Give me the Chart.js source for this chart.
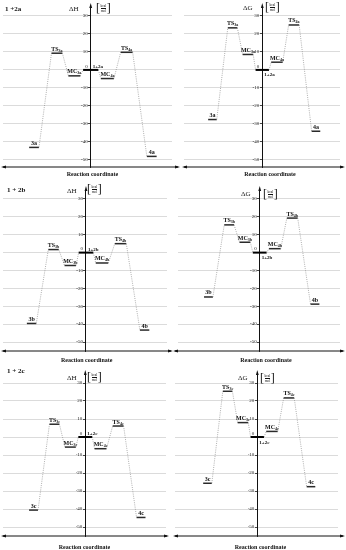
<!DOCTYPE html>
<html>
<head>
<meta charset="utf-8">
<script src="https://cdn.jsdelivr.net/npm/chart.js"></script>
<style>
  body { margin: 0; width: 346px; height: 550px; position: relative; background: #fff; overflow: hidden;
         font-family: "Liberation Serif", "DejaVu Serif", serif; color: #111; }
  canvas, .txt { position: absolute; }
  .txt { white-space: nowrap; line-height: 1; }
  .sys { font-size: 7px; font-weight: bold; }
  .qty { font-size: 7px; }
  .rc { font-size: 6px; font-weight: bold; transform: translateX(-50%); }
  .unit { display: flex; align-items: center; height: 12px; }
  .unit .br { font-size: 12px; line-height: 12px; }
  .unit .frac { display: flex; flex-direction: column; font-size: 3.5px; line-height: 4px; text-align: center; padding: 0 0.5px; }
  .unit .frac span:first-child { border-bottom: 0.5px solid #111; }
</style>
</head>
<body>
<script>
// species along the reaction coordinate (suffix letter added per system)
const species = ["3", "TS3", "MC3", "1+2", "MC4", "TS4", "4"];
const reactionCoord = [-52, -31, -15, 0, 15.3, 33, 56];
const energyTicks = [-50, -40, -30, -20, -10, 0, 10, 20, 30];

// kcal/mol
const enthalpyA = [-43.1, 9.3, -3.3, 0, -4.8, 9.8, -48.1];
const freeEnergyA = [-27.6, 23.4, 8.6, 0, 4.3, 25.0, -34.1];
const enthalpyB = [-39.6, 1.7, -7.2, 0, -5.8, 5.0, -43.3];
const freeEnergyB = [-24.8, 15.5, 5.8, 0, 2.2, 19.3, -28.8];
const enthalpyC = [-40.6, 7.1, -5.6, 0, -6.5, 6.1, -44.7];
const freeEnergyC = [-25.7, 25.4, 8.0, 0, 3.1, 21.7, -27.6];

const levelHalfWidth = [4.5, 5, 5.5, 7, 6, 5.5, 4.5];
const FONT = "'Liberation Serif', 'DejaVu Serif', serif";

// box = [left, top, width, height], pad = [left, top, right, bottom]
const panels = [
  { letter: "a", kind: "ΔH", energies: enthalpyA, system: "1 +2a",
    box: [0, 0, 181, 180], pad: [3, 7, 9, 13], xRange: [-80.5, 74.6], yMin: -54,
    sysAt: [5, 6], kindAt: [69, 6], unitAt: [96, 2], rcAt: [92.5, 171] },
  { letter: "a", kind: "ΔG", energies: freeEnergyA,
    box: [181, 0, 165, 180], pad: [3, 7, 6, 13], xRange: [-81.7, 81.1], yMin: -54,
    kindAt: [243, 5], unitAt: [265, 1], rcAt: [270, 171] },
  { letter: "b", kind: "ΔH", energies: enthalpyB, system: "1 + 2b",
    box: [0, 180, 174, 185], pad: [3, 10, 7, 14], xRange: [-79.3, 77.4], yMin: -55,
    sysAt: [7, 187], kindAt: [67, 188], unitAt: [87, 183], rcAt: [86.7, 357] },
  { letter: "b", kind: "ΔG", energies: freeEnergyB,
    box: [172, 180, 174, 185], pad: [6, 10, 6, 14], xRange: [-82.9, 81.4], yMin: -55,
    kindAt: [241, 191], unitAt: [263, 188], rcAt: [266, 357] },
  { letter: "c", kind: "ΔH", energies: enthalpyC, system: "1 + 2c",
    box: [0, 365, 170, 185], pad: [3, 9, 4, 14], xRange: [-82.7, 81.1], yMin: -55,
    sysAt: [7, 368], kindAt: [67, 375], unitAt: [87, 371], rcAt: [84.5, 544] },
  { letter: "c", kind: "ΔG", energies: freeEnergyC,
    box: [172, 365, 174, 185], pad: [3, 9, 8, 14], xRange: [-85.9, 84.2], yMin: -55,
    kindAt: [238, 375], unitAt: [260, 372], rcAt: [260.5, 544] }
];

function addText(cls, html, left, top) {
  const el = document.createElement("div");
  el.className = "txt " + cls;
  el.innerHTML = html;
  el.style.left = left + "px";
  el.style.top = top + "px";
  document.body.appendChild(el);
}

function levelPoints(energies) {
  const pts = [];
  energies.forEach((e, i) => {
    pts.push({ x: reactionCoord[i] - levelHalfWidth[i], y: e });
    pts.push({ x: reactionCoord[i] + levelHalfWidth[i], y: e });
  });
  return pts;
}

function drawSpeciesLabel(ctx, name, letter, cx, baseline) {
  const m = /^(TS|MC)(\d)$/.exec(name);
  const main = m ? m[1] : name + letter;
  const sub = m ? m[2] + letter : "";
  ctx.font = "bold 6px " + FONT;
  const w1 = ctx.measureText(main).width;
  ctx.font = "bold 4px " + FONT;
  const w2 = sub ? ctx.measureText(sub).width : 0;
  const left = cx - (w1 + w2) / 2;
  ctx.font = "bold 6px " + FONT;
  ctx.fillText(main, left, baseline);
  if (sub) {
    ctx.font = "bold 4px " + FONT;
    ctx.fillText(sub, left + w1, baseline + 1);
  }
}

function decorations(panel) {
  return {
    id: "decorations",
    afterDatasetsDraw(chart) {
      const { ctx, chartArea, scales: { x, y } } = chart;
      const axisX = x.getPixelForValue(0);
      const yb = chartArea.bottom;
      ctx.save();
      ctx.fillStyle = "#111";
      ctx.strokeStyle = "#111";
      ctx.lineWidth = 1;

      // reaction coordinate, double arrow
      ctx.beginPath();
      ctx.moveTo(3, yb);
      ctx.lineTo(chart.width - 3, yb);
      ctx.stroke();
      ctx.beginPath();
      ctx.moveTo(1, yb); ctx.lineTo(6, yb - 1.6); ctx.lineTo(6, yb + 1.6); ctx.closePath();
      ctx.moveTo(chart.width - 1, yb); ctx.lineTo(chart.width - 6, yb - 1.6); ctx.lineTo(chart.width - 6, yb + 1.6); ctx.closePath();
      ctx.fill();

      // energy axis arrow head
      ctx.beginPath();
      ctx.moveTo(axisX, chartArea.top - 4);
      ctx.lineTo(axisX - 1.4, chartArea.top + 1);
      ctx.lineTo(axisX + 1.4, chartArea.top + 1);
      ctx.closePath();
      ctx.fill();

      // energy tick labels beside the centred axis
      ctx.font = "5px " + FONT;
      ctx.fillStyle = "#222";
      ctx.textAlign = "right";
      y.ticks.forEach(t => {
        const py = y.getPixelForValue(t.value);
        if (t.value === 0) {
          ctx.textBaseline = "bottom";
          ctx.fillText(String(t.value), axisX - 3, py - 1);
        } else {
          ctx.textBaseline = "middle";
          ctx.fillText(String(t.value), axisX - 3, py);
        }
      });

      ctx.fillStyle = "#111";
      ctx.textAlign = "left";
      ctx.textBaseline = "alphabetic";
      species.forEach((name, i) => {
        const cy = y.getPixelForValue(panel.energies[i]);
        if (name === "1+2") {
          ctx.font = "bold 5px " + FONT;
          const by = panel.kind === "ΔH" ? cy - 2 : cy + 6.5;
          ctx.fillText(name + panel.letter, axisX + 2, by);
        } else {
          drawSpeciesLabel(ctx, name, panel.letter, x.getPixelForValue(reactionCoord[i]), cy - 2.5);
        }
      });
      ctx.restore();
    }
  };
}

panels.forEach(panel => {
  const [left, top, width, height] = panel.box;
  const canvas = document.createElement("canvas");
  canvas.width = width;
  canvas.height = height;
  canvas.style.left = left + "px";
  canvas.style.top = top + "px";
  document.body.appendChild(canvas);

  new Chart(canvas, {
    type: "line",
    data: {
      datasets: [{
        data: levelPoints(panel.energies),
        pointRadius: 0,
        borderColor: "#222",
        segment: {
          borderColor: c => c.p0DataIndex % 2 ? "#8c8c8c" : (c.p0DataIndex === 6 ? "#000" : "#2a2a2a"),
          borderWidth: c => c.p0DataIndex % 2 ? 0.7 : (c.p0DataIndex === 6 ? 2 : 1.5),
          borderDash: c => c.p0DataIndex % 2 ? [1, 1.2] : []
        }
      }]
    },
    options: {
      responsive: false,
      animation: false,
      events: [],
      layout: { padding: { left: panel.pad[0], top: panel.pad[1], right: panel.pad[2], bottom: panel.pad[3] } },
      plugins: { legend: { display: false }, tooltip: { enabled: false } },
      scales: {
        x: { type: "linear", display: false, min: panel.xRange[0], max: panel.xRange[1] },
        y: {
          type: "linear",
          position: { x: 0 },
          min: panel.yMin,
          max: 35,
          afterBuildTicks: axis => { axis.ticks = energyTicks.map(value => ({ value })); },
          afterFit: axis => { axis.width = 0; },
          grid: { color: "#d2d2d2", lineWidth: 0.8, tickLength: 2, tickColor: "#222", tickWidth: 0.8 },
          border: { display: true, color: "#111", width: 1 },
          ticks: { display: false }
        }
      }
    },
    plugins: [decorations(panel)]
  });

  if (panel.system) addText("sys", panel.system, panel.sysAt[0], panel.sysAt[1]);
  addText("qty", panel.kind, panel.kindAt[0], panel.kindAt[1]);
  addText("unit", '<span class="br">[</span><span class="frac"><span>kcal</span><span>mol</span></span><span class="br">]</span>',
    panel.unitAt[0], panel.unitAt[1]);
  addText("rc", "Reaction coordinate", panel.rcAt[0], panel.rcAt[1]);
});
</script>
</body>
</html>
